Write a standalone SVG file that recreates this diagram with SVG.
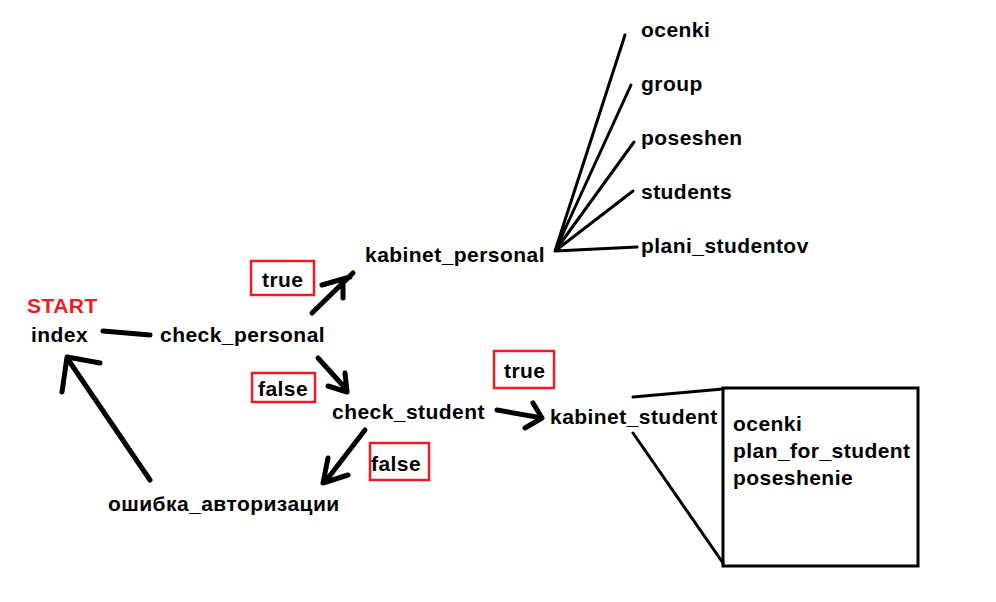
<svg xmlns="http://www.w3.org/2000/svg" width="996" height="602" viewBox="0 0 996 602">
<style>
text{font-family:"Liberation Sans",Arial,sans-serif;font-weight:bold;font-size:21px;letter-spacing:0.45px;fill:#000}
.red{fill:#ed1c24}
.lbl{fill:none;stroke:#ed1c24;stroke-width:2.5}
.thick{fill:none;stroke:#000;stroke-width:5;stroke-linecap:round;stroke-linejoin:round}
.thin{fill:none;stroke:#000;stroke-width:3;stroke-linecap:round}
</style>
<rect width="996" height="602" fill="#fff"/>
<g id="connectors">
<path class="thick" d="M103,331 L150,335"/>
<path class="thick" d="M312,313 L353,273 M322,285 L350,277 M343,280 L343,298"/>
<path class="thick" d="M318,358 L347,390 M328,386 L347,392 M345,373 L347,392"/>
<path class="thick" d="M497,410 L542,418 M533,403 L542,418 L525,428"/>
<path class="thick" d="M365,430 L325,482 M328,458 L323,483 L348,475"/>
<path class="thick" d="M150,480 L67,358 M62,392 L67,357 L100,363"/>
<path class="thin" d="M555,251 L625,35 M555,251 L631,85 M555,251 L634,142 M555,251 L633,191 M555,251 L637,247"/>
<path class="thin" d="M633,397 L723,389 M633,433 L723,563"/>
</g>
<g id="start"><text class="red" x="27" y="313">START</text></g>
<g id="index"><text x="31" y="342">index</text></g>
<g id="check_personal"><text x="160" y="342">check_personal</text></g>
<g id="label_true1"><rect class="lbl" x="251" y="261" width="63" height="34"/><text x="262" y="287">true</text></g>
<g id="kabinet_personal"><text x="365" y="262">kabinet_personal</text></g>
<g id="label_false1"><rect class="lbl" x="252" y="373" width="63" height="29"/><text x="258" y="396">false</text></g>
<g id="check_student"><text x="332" y="419">check_student</text></g>
<g id="label_true2"><rect class="lbl" x="494" y="351" width="60" height="37"/><text x="504" y="378">true</text></g>
<g id="kabinet_student"><text x="550" y="424">kabinet_student</text></g>
<g id="label_false2"><rect class="lbl" x="370" y="443" width="59" height="37"/><text x="371" y="471">false</text></g>
<g id="oshibka"><text x="108" y="511">ошибка_авторизации</text></g>
<g id="p_ocenki"><text x="641" y="37">ocenki</text></g>
<g id="p_group"><text x="641" y="91">group</text></g>
<g id="p_poseshen"><text x="641" y="145">poseshen</text></g>
<g id="p_students"><text x="641" y="199">students</text></g>
<g id="p_plani"><text x="641" y="253">plani_studentov</text></g>
<g id="student_box"><rect x="723" y="388" width="195" height="178" fill="none" stroke="#000" stroke-width="3"/>
<text x="733" y="431">ocenki</text>
<text x="733" y="458">plan_for_student</text>
<text x="733" y="485">poseshenie</text></g>
</svg>
